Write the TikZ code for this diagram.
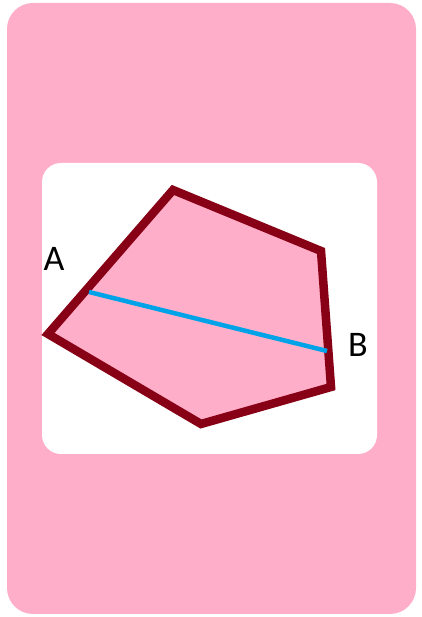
\documentclass[tikz,border=0pt]{standalone}
\usepackage{fontspec}
\setmainfont{Carlito}
\definecolor{bgpink}{RGB}{255,174,201}
\definecolor{darkred}{RGB}{136,0,21}
\definecolor{paintblue}{RGB}{0,162,232}
\tikzset{
  edge/.style={draw=darkred, line width=8.5pt, line join=miter, fill=bgpink},
  chord/.style={draw=paintblue, line width=4.5pt},
  lbl/.style={font=\fontsize{36}{36}\selectfont, text=black, inner sep=0pt}
}
\begin{document}
\begin{tikzpicture}[x=1pt,y=1pt]
\useasboundingbox (0,0) rectangle (421,617);
\fill[bgpink, rounded corners=26pt] (7,3) rectangle (416,614);
\fill[white, rounded corners=19pt] (42,163) rectangle (377,454);
\coordinate (p1) at (173,427);
\coordinate (p2) at (321,366);
\coordinate (p3) at (331,230);
\coordinate (p4) at (201,193);
\coordinate (p5) at (48,283);
\draw[edge] (p1) -- (p2) -- (p3) -- (p4) -- (p5) -- cycle;
\coordinate (a) at (89,325);
\coordinate (b) at (327,266);
\draw[chord] (a) -- (b);
\node[lbl] (la) at (54,358) {A};
\node[lbl] (lb) at (358,272) {B};
\end{tikzpicture}
\end{document}
